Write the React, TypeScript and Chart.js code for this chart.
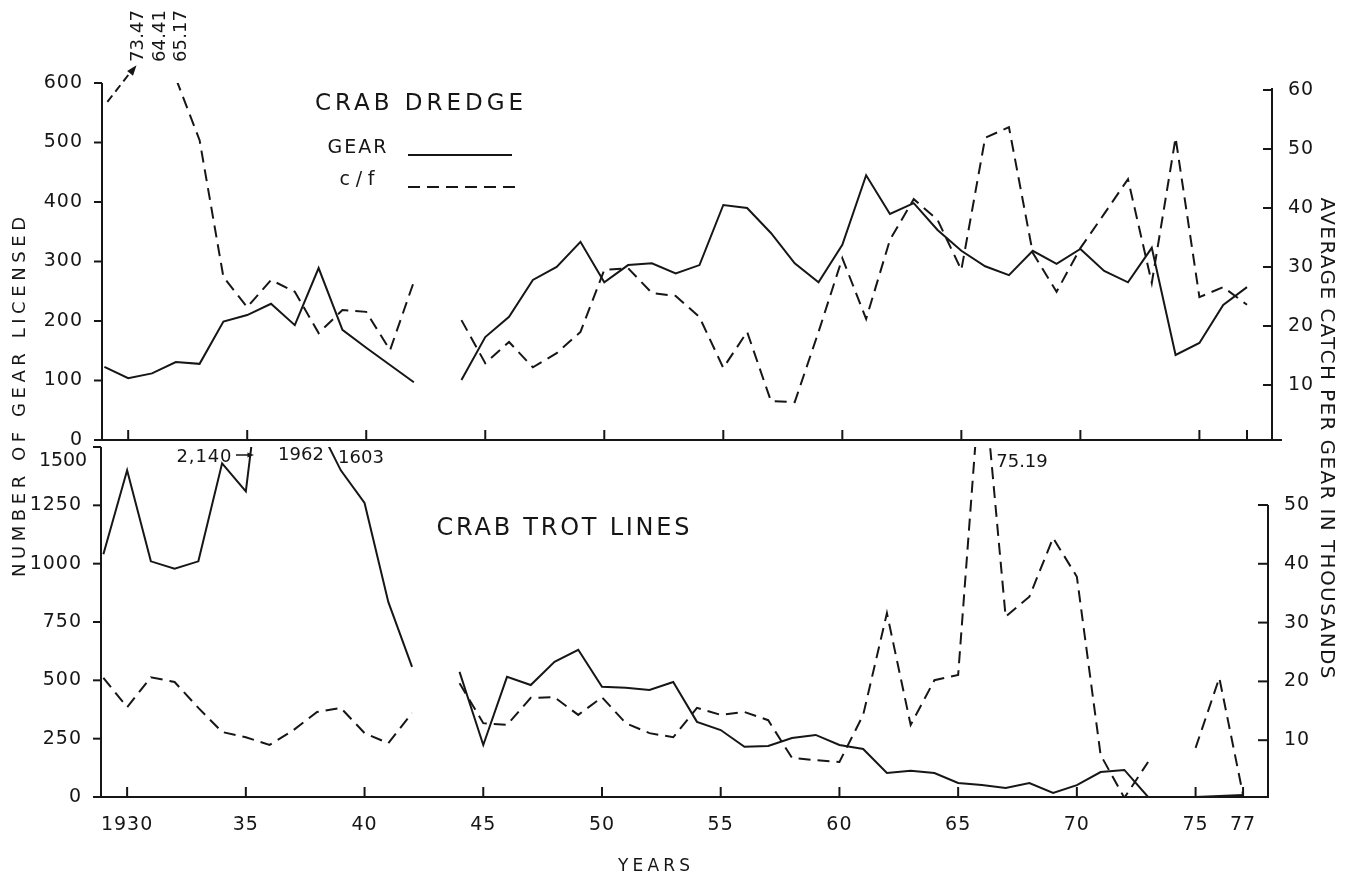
import React, { useEffect, useRef } from 'react';
import { Chart, registerables } from 'chart.js';

Chart.register(...registerables);

const FONT = '"DejaVu Sans", "Liberation Sans", sans-serif';
const INK = '#161616';

// ---------- data ----------
const years = [
  1929, 1930, 1931, 1932, 1933, 1934, 1935, 1936, 1937, 1938,
  1939, 1940, 1941, 1942, 1943, 1944, 1945, 1946, 1947, 1948,
  1949, 1950, 1951, 1952, 1953, 1954, 1955, 1956, 1957, 1958,
  1959, 1960, 1961, 1962, 1963, 1964, 1965, 1966, 1967, 1968,
  1969, 1970, 1971, 1972, 1973, 1974, 1975, 1976, 1977,
];

// Crab dredge: gear licensed (left axis)
const dredgeGear = [
  123, 104, 112, 131, 128, 199, 210, 229, 193, 289,
  185, 155, 126, 97, null, 101, 173, 207, 269, 291,
  333, 265, 294, 297, 280, 294, 395, 390, 348, 297,
  265, 328, 445, 380, 398, 353, 318, 292, 277, 318,
  296, 321, 284, 265, 323, 143, 163, 227, 257,
];

// Crab dredge: average catch per gear, thousands (right axis)
const dredgeCatch = [
  73.47, 64.41, 65.17, 62, 51.5, 28.3, 23.2, 27.8, 25.8, 18.8,
  22.7, 22.4, 15.9, 27.5, null, 21.0, 13.7, 17.3, 13.0, 15.4,
  19.0, 29.5, 29.8, 25.6, 25.1, 21.5, 12.9, 19.0, 7.3, 7.1,
  19.0, 31.5, 21.2, 34.6, 41.5, 38.0, 29.5, 51.9, 53.7, 32.4,
  25.8, 33.2, 39.0, 44.9, 27.3, 51.9, 24.9, 26.6, 23.6,
];

// Crab trot lines: gear licensed (left axis)
const trotGear = [
  1040, 1400, 1010, 978, 1010, 1430, 1310, 2140, 1962, 1603,
  1400, 1260, 836, 558, null, 536, 223, 515, 480, 579,
  631, 472, 468, 459, 493, 322, 287, 215, 219, 253,
  266, 223, 206, 103, 112, 103, 60, 51, 39, 60,
  17, 51, 107, 116, 0, 0, 0, 4, 9,
];

// Crab trot lines: average catch per gear, thousands (right axis)
const trotCatch = [
  20.6, 15.6, 20.7, 19.9, 15.5, 11.4, 10.5, 9.2, 11.7, 14.8,
  15.5, 11.2, 9.5, 14.6, null, 19.7, 12.9, 12.6, 17.2, 17.3,
  14.3, 17.3, 12.9, 11.2, 10.5, 15.5, 14.3, 14.8, 13.4, 7.0,
  6.6, 6.3, 14.3, 31.6, 12.6, 20.2, 21.1, 75.19, 31.0, 34.4,
  44.4, 37.8, 7.5, 0.2, 6.3, null, 8.7, 20.6, 0.7,
];

const yearTicks = [1930, 1935, 1940, 1945, 1950, 1955, 1960, 1965, 1970, 1975, 1977];
const yearTickLabels = ['1930', '35', '40', '45', '50', '55', '60', '65', '70', '75', '77'];
const dredgeGearTicks = [0, 100, 200, 300, 400, 500, 600];
const dredgeCatchTicks = [10, 20, 30, 40, 50, 60];
const trotGearTicks = [0, 250, 500, 750, 1000, 1250, 1500];
const trotCatchTicks = [10, 20, 30, 40, 50];

const X_MIN = 1928.9;
const X_MAX = 1978.05;

// ---------- helpers ----------
const pts = (vals: (number | null)[]) => years.map((yr, i) => ({ x: yr, y: vals[i] }));

function seg(ctx: CanvasRenderingContext2D, x1: number, y1: number, x2: number, y2: number) {
  ctx.beginPath();
  ctx.moveTo(x1, y1);
  ctx.lineTo(x2, y2);
  ctx.stroke();
}

function txt(
  ctx: CanvasRenderingContext2D,
  s: string,
  x: number,
  y: number,
  size: number,
  width = 0,
  rot = 0,
) {
  ctx.save();
  ctx.font = `${size}px ${FONT}`;
  (ctx as any).letterSpacing = '0px';
  const w = ctx.measureText(s).width;
  const ls = width ? (width - w) / Math.max(s.length - 1, 1) : 0;
  (ctx as any).letterSpacing = `${ls}px`;
  ctx.translate(x, y);
  ctx.rotate(rot);
  ctx.fillStyle = INK;
  ctx.textAlign = 'center';
  ctx.textBaseline = 'middle';
  ctx.fillText(s, ls / 2, 0);
  ctx.restore();
}

function head(ctx: CanvasRenderingContext2D, x: number, y: number, ang: number, len = 10) {
  ctx.save();
  ctx.fillStyle = INK;
  ctx.beginPath();
  ctx.moveTo(x, y);
  ctx.lineTo(x - len * Math.cos(ang - 0.35), y - len * Math.sin(ang - 0.35));
  ctx.lineTo(x - len * Math.cos(ang + 0.35), y - len * Math.sin(ang + 0.35));
  ctx.closePath();
  ctx.fill();
  ctx.restore();
}

const spacing = {
  id: 'spacing',
  beforeDraw(chart: any) {
    (chart.ctx as any).letterSpacing = '1px';
  },
};

const topDecor = {
  id: 'topDecor',
  afterDraw(chart: any) {
    const { ctx, chartArea: a, scales } = chart;
    const x = scales.x;
    const yL = scales.yL;
    const yR = scales.yR;
    ctx.save();
    ctx.strokeStyle = INK;
    ctx.lineWidth = 2;
    ctx.setLineDash([]);
    // axes
    seg(ctx, a.left, a.top, a.left, a.bottom);
    seg(ctx, a.right, yR.getPixelForValue(60) - 2, a.right, a.bottom);
    seg(ctx, a.left - 7, a.bottom, a.right + 10, a.bottom);
    dredgeGearTicks.forEach((v) => {
      const p = yL.getPixelForValue(v);
      seg(ctx, a.left - 8, p, a.left, p);
    });
    dredgeCatchTicks.forEach((v) => {
      const p = yR.getPixelForValue(v);
      seg(ctx, a.right - 9, p, a.right, p);
    });
    yearTicks.forEach((v) => {
      const p = x.getPixelForValue(v);
      seg(ctx, p, a.bottom, p, a.bottom - 10);
    });
    // legend
    seg(ctx, 408, 155, 512, 155);
    ctx.setLineDash([12, 7]);
    seg(ctx, 408, 187, 520, 187);
    // arrow for off-scale values
    const x0 = x.getPixelForValue(1929) + 3;
    const y0 = yR.getPixelForValue(58);
    const x1 = x.getPixelForValue(1930.35);
    const y1 = yR.getPixelForValue(64.2);
    ctx.setLineDash([8, 5]);
    seg(ctx, x0, y0, x1 - 3, y1 + 3);
    ctx.setLineDash([]);
    head(ctx, x1, y1, Math.atan2(y1 - y0, x1 - x0), 11);
    ctx.restore();

    txt(ctx, 'CRAB DREDGE', 419, 104, 23, 208);
    txt(ctx, 'GEAR', 357, 148, 19, 59);
    txt(ctx, 'c/f', 357, 180, 19, 35);
    txt(ctx, '73.47', 138, 36, 18, 52, -Math.PI / 2);
    txt(ctx, '64.41', 160, 36, 18, 52, -Math.PI / 2);
    txt(ctx, '65.17', 181, 36, 18, 52, -Math.PI / 2);
  },
};

const bottomDecor = {
  id: 'bottomDecor',
  afterDraw(chart: any) {
    const { ctx, chartArea: a, scales } = chart;
    const x = scales.x;
    const yL = scales.yL;
    const yR = scales.yR;
    ctx.save();
    ctx.strokeStyle = INK;
    ctx.lineWidth = 2;
    ctx.setLineDash([]);
    seg(ctx, a.left, a.top, a.left, a.bottom);
    const r50 = yR.getPixelForValue(50);
    seg(ctx, a.right, r50, a.right, a.bottom);
    seg(ctx, a.left - 5, a.bottom, a.right + 1, a.bottom);
    trotGearTicks.forEach((v) => {
      const p = yL.getPixelForValue(v);
      seg(ctx, a.left - 8, p, a.left, p);
    });
    trotCatchTicks.forEach((v) => {
      const p = yR.getPixelForValue(v);
      seg(ctx, a.right - 10, p, a.right, p);
    });
    yearTicks.forEach((v) => {
      const p = x.getPixelForValue(v);
      seg(ctx, p, a.bottom, p, a.bottom - 10);
    });
    // small arrow after 2,140
    ctx.lineWidth = 1.5;
    seg(ctx, 236, 455, 250, 455);
    head(ctx, 254, 455, 0, 7);
    ctx.restore();

    txt(ctx, 'CRAB TROT LINES', 563, 529, 24, 253);
    txt(ctx, '2,140', 204, 457, 18, 55);
    txt(ctx, '1962', 301, 455, 18);
    txt(ctx, '1603', 361, 458, 18);
    txt(ctx, '75.19', 1022, 462, 18);
    txt(ctx, '1500', 63, 461, 19, 48);

    // shared titles
    txt(ctx, 'NUMBER OF GEAR LICENSED', 20, 397, 18, 360, -Math.PI / 2);
    txt(ctx, 'AVERAGE CATCH PER GEAR IN THOUSANDS', 1326, 438, 20, 481, Math.PI / 2);
    txt(ctx, 'YEARS', 654, 867, 17, 72);
  },
};

const tickFont = { family: FONT, size: 19 };

function lineSets(gear: (number | null)[], cf: (number | null)[]) {
  return [
    {
      label: 'GEAR',
      data: pts(gear),
      yAxisID: 'yL',
      borderColor: INK,
      borderWidth: 2,
      pointRadius: 0,
      tension: 0,
      spanGaps: false,
    },
    {
      label: 'c/f',
      data: pts(cf),
      yAxisID: 'yR',
      borderColor: INK,
      borderWidth: 2,
      borderDash: [12, 7],
      pointRadius: 0,
      tension: 0,
      spanGaps: false,
    },
  ];
}

export default function App() {
  const topRef = useRef<HTMLCanvasElement>(null);
  const botRef = useRef<HTMLCanvasElement>(null);

  useEffect(() => {
    const top = new Chart(topRef.current as HTMLCanvasElement, {
      type: 'line',
      data: { datasets: lineSets(dredgeGear, dredgeCatch) as any },
      options: {
        responsive: false,
        animation: false,
        devicePixelRatio: 1,
        events: [],
        layout: { padding: { top: 83, bottom: 437, left: 0, right: 0 } },
        plugins: { legend: { display: false }, tooltip: { enabled: false } },
        scales: {
          x: {
            type: 'linear',
            position: 'bottom',
            min: X_MIN,
            max: X_MAX,
            grid: { display: false },
            border: { display: false },
            ticks: { display: false },
            afterFit: (s: any) => {
              s.height = 5;
            },
          },
          yL: {
            type: 'linear',
            position: 'left',
            min: 0,
            max: 600,
            grid: { display: false },
            border: { display: false },
            afterBuildTicks: (s: any) => {
              s.ticks = dredgeGearTicks.map((v) => ({ value: v }));
            },
            ticks: { font: tickFont, color: INK, padding: 11, callback: (v: any) => String(v) },
            afterFit: (s: any) => {
              s.width = 102;
            },
          },
          yR: {
            type: 'linear',
            position: 'right',
            min: 0.68,
            max: 61.19,
            grid: { display: false },
            border: { display: false },
            afterBuildTicks: (s: any) => {
              s.ticks = dredgeCatchTicks.map((v) => ({ value: v }));
            },
            ticks: { font: tickFont, color: INK, padding: 8, callback: (v: any) => String(v) },
            afterFit: (s: any) => {
              s.width = 78;
            },
          },
        },
      } as any,
      plugins: [spacing, topDecor],
    });

    const bottom = new Chart(botRef.current as HTMLCanvasElement, {
      type: 'line',
      data: { datasets: lineSets(trotGear, trotCatch) as any },
      options: {
        responsive: false,
        animation: false,
        devicePixelRatio: 1,
        events: [],
        layout: { padding: { top: 447, bottom: 45, left: 0, right: 0 } },
        plugins: { legend: { display: false }, tooltip: { enabled: false } },
        scales: {
          x: {
            type: 'linear',
            position: 'bottom',
            min: X_MIN,
            max: X_MAX,
            grid: { display: false },
            border: { display: false },
            afterBuildTicks: (s: any) => {
              s.ticks = yearTicks.map((v) => ({ value: v }));
            },
            ticks: {
              font: tickFont,
              color: INK,
              padding: 9,
              autoSkip: false,
              maxRotation: 0,
              callback: (v: any) => yearTickLabels[yearTicks.indexOf(v)] ?? '',
            },
            afterFit: (s: any) => {
              s.height = 40;
            },
          },
          yL: {
            type: 'linear',
            position: 'left',
            min: 0,
            max: 1500,
            grid: { display: false },
            border: { display: false },
            afterBuildTicks: (s: any) => {
              s.ticks = trotGearTicks.map((v) => ({ value: v }));
            },
            ticks: {
              font: tickFont,
              color: INK,
              padding: 11,
              callback: (v: any) => (v === 1500 ? '' : String(v)),
            },
            afterFit: (s: any) => {
              s.width = 101;
            },
          },
          yR: {
            type: 'linear',
            position: 'right',
            min: 0.34,
            max: 59.86,
            grid: { display: false },
            border: { display: false },
            afterBuildTicks: (s: any) => {
              s.ticks = trotCatchTicks.map((v) => ({ value: v }));
            },
            ticks: { font: tickFont, color: INK, padding: 8, callback: (v: any) => String(v) },
            afterFit: (s: any) => {
              s.width = 82;
            },
          },
        },
      } as any,
      plugins: [spacing, bottomDecor],
    });

    return () => {
      top.destroy();
      bottom.destroy();
    };
  }, []);

  const cv: React.CSSProperties = { position: 'absolute', left: 0, top: 0, width: 1350, height: 882 };
  return (
    <div style={{ position: 'absolute', left: 0, top: 0, width: 1350, height: 882, background: '#fff' }}>
      <canvas ref={topRef} width={1350} height={882} style={cv} />
      <canvas ref={botRef} width={1350} height={882} style={cv} />
    </div>
  );
}
